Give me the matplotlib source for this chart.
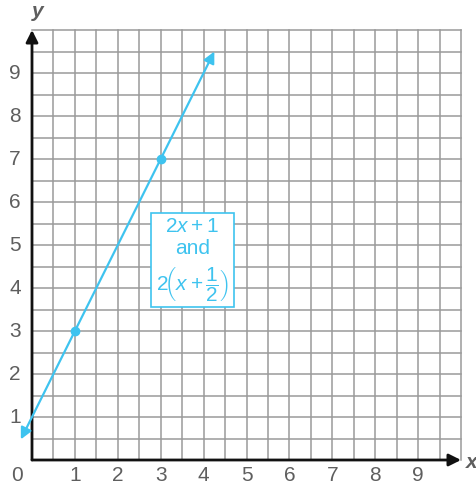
import matplotlib
matplotlib.use("Agg")
import matplotlib.pyplot as plt
import numpy as np

plt.rcParams['font.family'] = ['Liberation Sans', 'DejaVu Sans']
plt.rcParams['mathtext.fontset'] = 'custom'
plt.rcParams['mathtext.rm'] = 'Liberation Sans'
plt.rcParams['mathtext.it'] = 'Liberation Sans:italic'

# Line y = 2x + 1, the two marked points and the drawn segment's x-range
slope = 2
intercept = 1
point_x = [1, 3]
point_y = [3, 7]
line_x_range = [-0.26, 4.25]

x_tick_labels = ['0', '1', '2', '3', '4', '5', '6', '7', '8', '9']
y_tick_labels = ['1', '2', '3', '4', '5', '6', '7', '8', '9']

CYAN = '#3ec3ef'
GRID = '#9a9a9a'
LABEL = '#5e5e5e'

fig = plt.figure(figsize=(4.77, 4.90), dpi=100)
ax = fig.add_axes([32/477, 1 - 460/490, 429/477, 430/490])
ax.set_xlim(0, 10)
ax.set_ylim(0, 10)
ax.axis('off')

# Half-unit grid
for v in np.arange(0.5, 10.01, 0.5):
    ax.plot([v, v], [0, 10], color=GRID, lw=1.1, zorder=1, clip_on=False)
    ax.plot([0, 10], [v, v], color=GRID, lw=1.1, zorder=1, clip_on=False)

# Axes with arrowheads
arrow_kw = dict(arrowstyle='-|>', color='#111111', lw=2, mutation_scale=18,
                shrinkA=0, shrinkB=0)
ax.annotate('', xy=(0, 10), xytext=(0, 0), arrowprops=arrow_kw, annotation_clip=False)
ax.annotate('', xy=(10, 0), xytext=(0, 0), arrowprops=arrow_kw, annotation_clip=False)

# Tick labels
for i, lab in enumerate(x_tick_labels):
    xpos = -0.35 if i == 0 else i
    ax.text(xpos, -0.36, lab, ha='center', va='center', fontsize=15,
            color=LABEL, clip_on=False)
for i, lab in enumerate(y_tick_labels, start=1):
    ax.text(-0.4, i, lab, ha='center', va='center', fontsize=15,
            color=LABEL, clip_on=False)

ax.text(0.14, 10.42, 'y', ha='center', va='center', fontsize=15,
        style='italic', fontweight='bold', color=LABEL, clip_on=False)
ax.text(10.24, -0.05, 'x', ha='center', va='center', fontsize=15,
        style='italic', fontweight='bold', color=LABEL, clip_on=False)

# The line with arrowheads at both ends
x0, x1 = line_x_range
y0, y1 = slope * x0 + intercept, slope * x1 + intercept
ax.annotate('', xy=(x1, y1), xytext=(x0, y0), annotation_clip=False,
            arrowprops=dict(arrowstyle='<|-|>', color=CYAN, lw=1.6,
                            mutation_scale=17, shrinkA=0, shrinkB=0),
            zorder=4)
ax.plot(point_x, point_y, 'o', color=CYAN, markersize=6, zorder=5)

# Label box
box_x0, box_x1 = 2.77, 4.71
box_y0, box_y1 = 3.56, 5.74
ax.add_patch(plt.Rectangle((box_x0, box_y0), box_x1 - box_x0, box_y1 - box_y0,
                           facecolor='white', edgecolor=CYAN, lw=1.2, zorder=6))
cx = (box_x0 + box_x1) / 2
ax.text(cx, 5.42, r'$\mathrm{2}x\:+\:\mathrm{1}$', ha='center', va='center',
        fontsize=15, color=CYAN, zorder=7)
ax.text(cx, 4.93, 'and', ha='center', va='center', fontsize=15,
        color=CYAN, zorder=7)
ax.text(cx, 4.08, r'$\mathrm{2}\!\left(x\:+\,\dfrac{\mathrm{1}}{\mathrm{2}}\right)$',
        ha='center', va='center', fontsize=15, color=CYAN, zorder=7)

fig.savefig('out.png', dpi=100)
